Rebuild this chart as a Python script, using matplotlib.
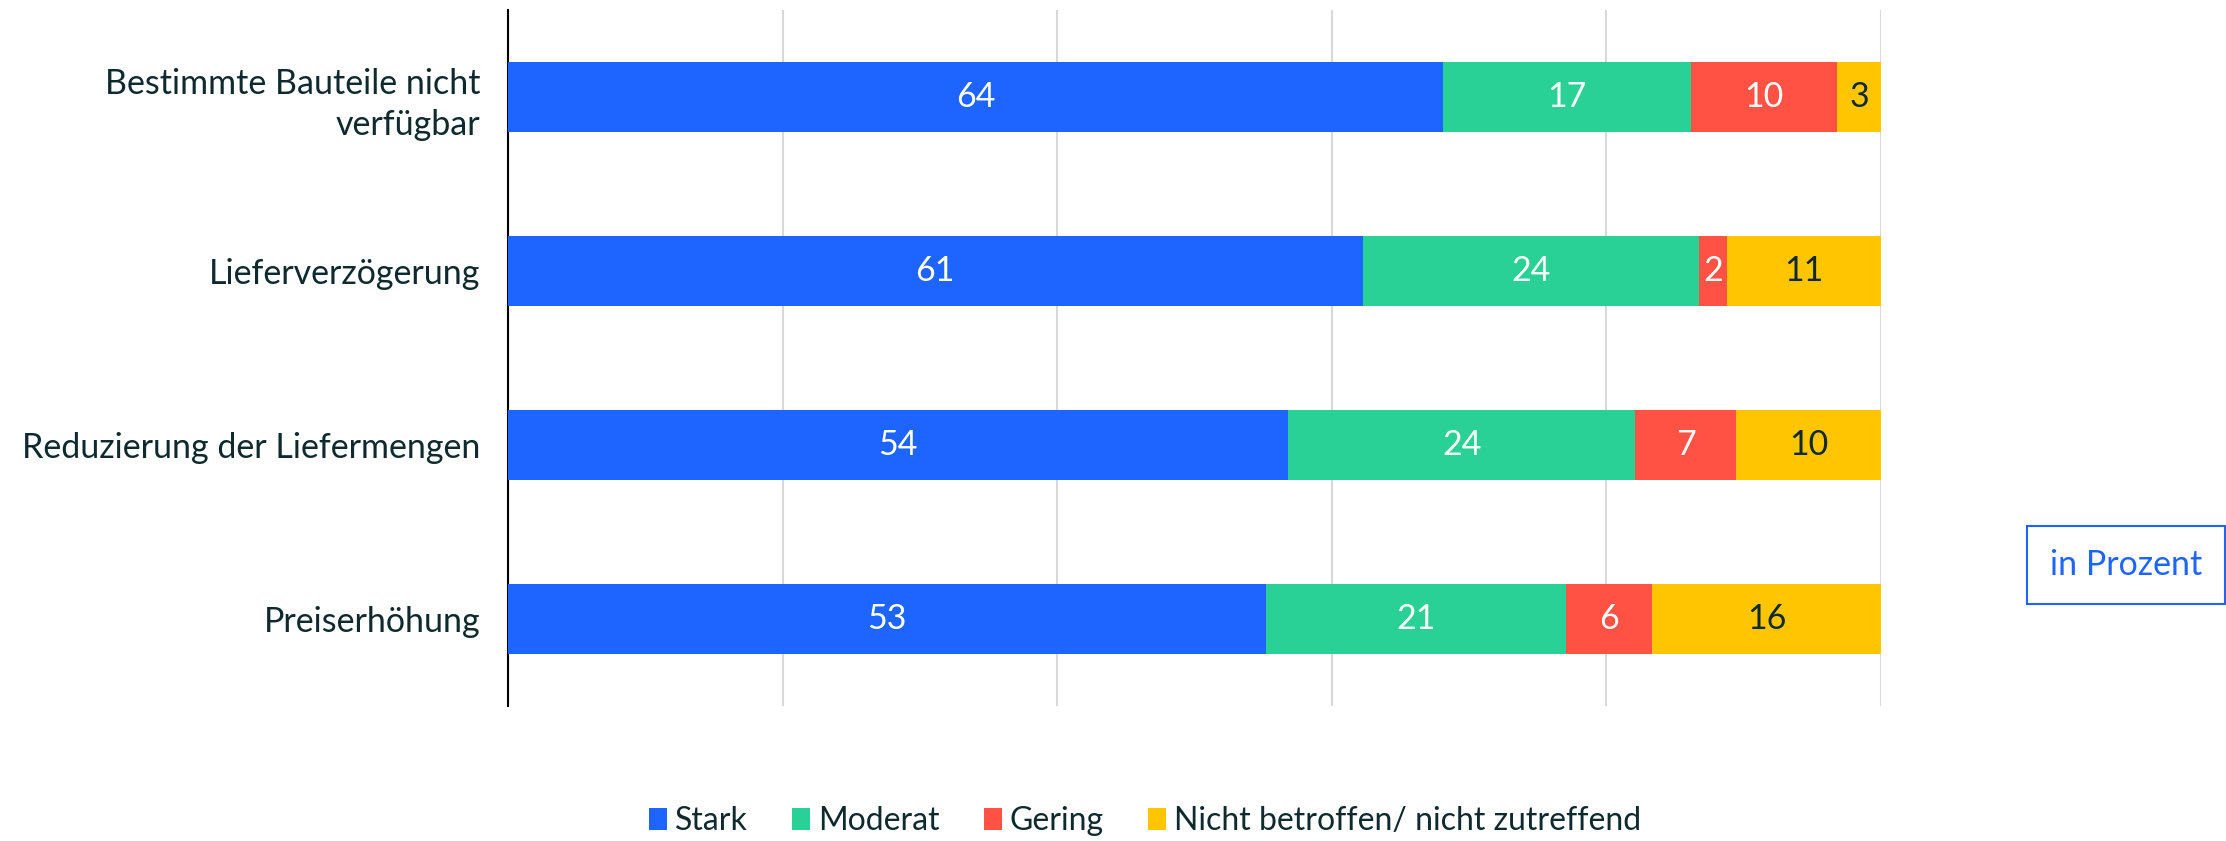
import matplotlib.pyplot as plt
from matplotlib.patches import Patch

categories = ['Bestimmte Bauteile nicht\nverfügbar', 'Lieferverzögerung',
              'Reduzierung der Liefermengen', 'Preiserhöhung']
series_names = ['Stark', 'Moderat', 'Gering', 'Nicht betroffen/ nicht zutreffend']
stark = [64, 61, 54, 53]
moderat = [17, 24, 24, 21]
gering = [10, 2, 7, 6]
nicht = [3, 11, 10, 16]

colors = ['#1e64ff', '#2ad196', '#ff5244', '#ffc600']
label_colors = ['white', 'white', 'white', '#0f2a2e']
text_dark = '#0f2a2e'
fs = 24.5

plt.rcParams['font.family'] = ['Lato', 'DejaVu Sans']

fig = plt.figure(figsize=(22.26, 8.41), dpi=100)
ax = fig.add_axes([508 / 2226, 1 - 706 / 841, (1881 - 508) / 2226, (706 - 10) / 841])

series = [stark, moderat, gering, nicht]
totals = [sum(v) for v in zip(*series)]
ypos = range(len(categories))
left = [0.0] * len(categories)
for vals, col, lcol in zip(series, colors, label_colors):
    widths = [v / t * 100 for v, t in zip(vals, totals)]
    ax.barh(ypos, widths, left=left, height=0.4, color=col, zorder=3)
    for i, (v, w) in enumerate(zip(vals, widths)):
        ax.text(left[i] + w / 2, i, str(v), ha='center', va='center',
                color=lcol, fontsize=fs, zorder=4)
    left = [l + w for l, w in zip(left, widths)]

ax.set_xlim(0, 100)
ax.set_ylim(3.5, -0.5)
ax.set_xticks([0, 20, 40, 60, 80, 100])
ax.set_xticklabels([])
ax.tick_params(axis='x', length=0)
ax.grid(axis='x', color='#d9d9d9', linewidth=1.5, zorder=0)
ax.set_yticks(list(ypos))
ax.set_yticklabels(categories, fontsize=fs, color=text_dark, linespacing=1.35)
ax.tick_params(axis='y', length=0, pad=20)
for s in ['top', 'right', 'bottom']:
    ax.spines[s].set_visible(False)
ax.spines['left'].set_color('black')
ax.spines['left'].set_linewidth(1.5)

handles = [Patch(facecolor=c, label=n) for c, n in zip(colors, series_names)]
fig.legend(handles=handles, loc='center', bbox_to_anchor=(1145 / 2226, 1 - 821 / 841),
           ncol=4, frameon=False, fontsize=23, handlelength=0.55, handleheight=0.7,
           handletextpad=0.25, columnspacing=1.4, labelcolor=text_dark)

fig.text(2126 / 2226, 1 - 565 / 841, 'in Prozent', ha='center', va='center',
         fontsize=fs, color='#1e64ff',
         bbox=dict(boxstyle='square,pad=0.68', facecolor='white',
                   edgecolor='#1e64ff', linewidth=1.5))

fig.savefig('out.png', dpi=100)
